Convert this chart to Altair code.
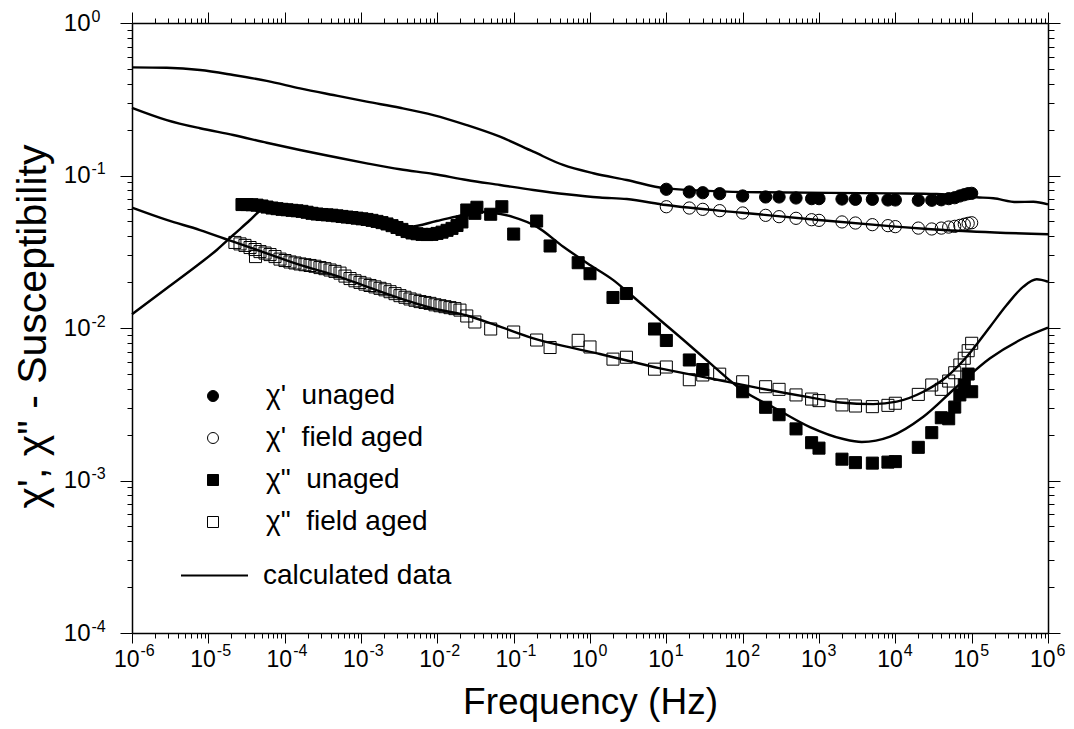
import altair as alt
import pandas as pd

# ---------------- data ----------------
# chi' (real part) - measured
c1_f = [10, 20, 30, 50, 100, 200, 300, 500, 800, 1000, 2000, 3000, 5000, 8000, 10000,
        20000, 30000, 40000, 50000, 60000, 70000, 80000, 90000, 100000]
c1_unaged = [0.0812, 0.0780, 0.0771, 0.0760, 0.0734, 0.0723, 0.0723, 0.0712, 0.0705, 0.0705,
             0.0701, 0.0698, 0.0698, 0.0691, 0.0691, 0.0688, 0.0688, 0.0693, 0.0705, 0.0715,
             0.0734, 0.0748, 0.0760, 0.0764]
c1_aged = [0.0624, 0.0612, 0.0600, 0.0588, 0.0568, 0.0548, 0.0537, 0.0524, 0.0513, 0.0508,
           0.0496, 0.0488, 0.0476, 0.0469, 0.0462, 0.0452, 0.0446, 0.0452, 0.0459, 0.0464,
           0.0471, 0.0479, 0.0486, 0.0490]

# chi'' unaged - measured (dense low-frequency sweep, then discrete points)
c2u_f = [2.76e-5, 3.21e-5, 3.73e-5, 4.34e-5, 5.05e-5, 5.87e-5, 6.83e-5, 7.94e-5, 9.23e-5, 1.074e-4,
         1.248e-4, 1.452e-4, 1.688e-4, 1.963e-4, 2.28e-4, 2.65e-4, 3.08e-4, 3.59e-4, 4.17e-4, 4.85e-4,
         5.64e-4, 6.56e-4, 7.63e-4, 8.87e-4, 1.031e-3, 1.199e-3, 1.394e-3, 1.621e-3, 1.885e-3, 2.19e-3,
         2.55e-3, 2.96e-3, 3.44e-3, 4.01e-3, 4.66e-3, 5.42e-3, 6.30e-3, 7.33e-3, 8.52e-3, 9.91e-3,
         1.152e-2, 1.34e-2, 1.556e-2, 1.81e-2, 2.10e-2,
         0.0243, 0.031, 0.033, 0.05, 0.07, 0.1, 0.2, 0.3, 0.7, 1, 2, 3, 7, 10, 20, 30, 100, 200, 300,
         500, 800, 1000, 2000, 3000, 5000, 8000, 10000, 20000, 30000, 40000, 50000, 60000, 70000,
         80000, 90000, 100000]
c2u_v = [0.0645, 0.0645, 0.0643, 0.0639, 0.0631, 0.0621, 0.0612, 0.0606, 0.0600, 0.0596,
         0.0591, 0.0587, 0.0582, 0.0574, 0.0565, 0.0559, 0.0555, 0.0552, 0.0549, 0.0544,
         0.0539, 0.0534, 0.0530, 0.0525, 0.0520, 0.0515, 0.0508, 0.0500, 0.0491, 0.0481,
         0.0469, 0.0456, 0.0443, 0.0429, 0.0420, 0.0415, 0.0411, 0.0410, 0.0411, 0.0417,
         0.0425, 0.0437, 0.0450, 0.0470, 0.0496,
         0.0594, 0.0565, 0.0619, 0.0557, 0.0624, 0.0413, 0.0503, 0.0345, 0.0268, 0.0227,
         0.01585, 0.01683, 0.00985, 0.00828, 0.00617, 0.00534, 0.00382, 0.00302, 0.00270,
         0.00218, 0.00177, 0.00163, 0.00138, 0.00131, 0.00130, 0.00132, 0.00133, 0.00165,
         0.00206, 0.00258, 0.00254, 0.00303, 0.00364, 0.00423, 0.00499, 0.00382]

# chi'' field aged - measured
c2a_f = [2.23e-5, 2.60e-5, 3.02e-5, 3.52e-5, 4.09e-5, 4.75e-5, 5.53e-5, 6.43e-5, 7.47e-5, 8.69e-5,
         1.010e-4, 1.175e-4, 1.365e-4, 1.588e-4, 1.846e-4, 2.15e-4, 2.49e-4, 2.90e-4, 3.37e-4, 3.93e-4,
         4.56e-4, 5.31e-4, 6.17e-4, 7.18e-4, 8.34e-4, 9.70e-4, 1.128e-3, 1.312e-3, 1.525e-3, 1.774e-3,
         2.06e-3, 2.40e-3, 2.79e-3, 3.24e-3, 3.77e-3, 4.39e-3, 5.10e-3, 5.93e-3, 6.89e-3, 8.01e-3,
         9.31e-3, 1.083e-2, 1.259e-2, 1.465e-2, 1.70e-2, 1.98e-2, 4.15e-5,
         0.0243, 0.031, 0.05, 0.1, 0.2, 0.3, 0.7, 1, 2, 3, 7, 10, 20, 30, 50, 100, 200, 300, 500,
         800, 1000, 2000, 3000, 5000, 8000, 10000, 20000, 30000, 40000, 50000, 60000, 70000,
         80000, 90000, 100000]
c2a_v = [0.0364, 0.0356, 0.0348, 0.0337, 0.0327, 0.0317, 0.0310, 0.0303, 0.0294, 0.0283,
         0.0277, 0.0271, 0.0267, 0.0263, 0.0260, 0.0257, 0.0254, 0.0249, 0.0245, 0.0240,
         0.0235, 0.0229, 0.0219, 0.0211, 0.0204, 0.0199, 0.0194, 0.0190, 0.0186, 0.0182,
         0.0178, 0.0173, 0.0168, 0.0163, 0.0159, 0.0155, 0.0152, 0.0149, 0.0147, 0.0145,
         0.0142, 0.0140, 0.0138, 0.0136, 0.0134, 0.0131, 0.0294,
         0.01199, 0.01095, 0.00985, 0.00941, 0.00834, 0.00745, 0.00830, 0.00751, 0.00625,
         0.00643, 0.00537, 0.00555, 0.00458, 0.00492, 0.00498, 0.00444, 0.00412, 0.00396,
         0.00364, 0.00342, 0.00334, 0.00313, 0.00308, 0.00305, 0.00311, 0.00321, 0.00367,
         0.00423, 0.00396, 0.00449, 0.00509, 0.00572, 0.00633, 0.00710, 0.00794]

# calculated curves
fit1_f = [1e-6, 2.85e-6, 7.78e-6, 2.12e-5, 5.82e-5, 1.59e-4, 4.34e-4, 1.19e-3, 3.24e-3, 8.85e-3,
          0.0243, 0.0662, 0.181, 0.444, 1.107, 3.03, 9.9, 169, 9419, 34800, 116400, 192300,
          389000, 642700, 1e6]
fit1_v = [0.512, 0.509, 0.492, 0.456, 0.417, 0.373, 0.337, 0.305, 0.278, 0.249, 0.214, 0.1796,
          0.1432, 0.1172, 0.1034, 0.0934, 0.0824, 0.0776, 0.0764, 0.0756, 0.0720, 0.0709,
          0.0670, 0.0673, 0.0647]
fit2_f = [1e-6, 2.85e-6, 7.78e-6, 2.12e-5, 5.82e-5, 1.59e-4, 4.34e-4, 1.19e-3, 3.24e-3, 8.85e-3,
          0.0243, 0.0662, 0.181, 0.495, 1.35, 3.03, 9.9, 98.2, 991, 10120, 29400, 116400, 1e6]
fit2_v = [0.278, 0.231, 0.204, 0.1843, 0.164, 0.147, 0.1328, 0.1202, 0.1098, 0.1023, 0.0934,
          0.0866, 0.0803, 0.0753, 0.0717, 0.0701, 0.0640, 0.0570, 0.0511, 0.0462, 0.0444,
          0.0428, 0.0412]
fit3_f = [1e-6, 2.85e-6, 7.78e-6, 1.29e-5, 2.12e-5, 3.52e-5, 4.75e-5, 7.1e-5, 1.59e-4, 4.3e-4,
          1.19e-3, 2.4e-3, 4.39e-3, 9.8e-3, 0.0219, 0.0362, 0.049, 0.0989, 0.2, 0.447, 1.0, 2.02,
          3.34, 8.26, 15.1, 37.3, 98.2, 279, 762, 2084, 3631, 8531, 23280, 63700, 174200,
          475300, 1e6]
fit3_v = [0.01230, 0.01821, 0.02657, 0.03247, 0.04072, 0.05107, 0.05877, 0.06404, 0.0621,
          0.0585, 0.0543, 0.0503, 0.0462, 0.0503, 0.0551, 0.0579, 0.0572, 0.0534, 0.0462,
          0.0341, 0.0259, 0.0206, 0.0167, 0.01128, 0.00873, 0.00589, 0.00392, 0.00294,
          0.00224, 0.00187, 0.00179, 0.00194, 0.00262, 0.00412, 0.00633, 0.00856, 0.01005]
fit4_f = [1e-6, 2.85e-6, 7.78e-6, 2.12e-5, 5.82e-5, 1.59e-4, 4.34e-4, 1.19e-3, 3.24e-3, 8.85e-3,
          0.0243, 0.0662, 0.181, 0.495, 1.35, 8.26, 37.3, 169, 762, 1884, 5152, 10420, 23280,
          47100, 86100, 174200, 287700, 475300, 711200, 1e6]
fit4_v = [0.0615, 0.0511, 0.0439, 0.0368, 0.0309, 0.0259, 0.0223, 0.01866, 0.01566, 0.01346,
          0.01208, 0.01020, 0.00856, 0.00754, 0.00675, 0.00544, 0.00468, 0.00402, 0.00351,
          0.00325, 0.00317, 0.00329, 0.00382, 0.00479, 0.00648, 0.0102, 0.01415, 0.01866,
          0.02086, 0.0201]

series_names = ["χ'\u00a0 unaged", "χ'\u00a0 field aged",
                'χ"\u00a0 unaged', 'χ"\u00a0 field aged']
fit_label = "calculated data"

x_major = [1e-6, 1e-5, 1e-4, 1e-3, 1e-2, 1e-1, 1, 10, 100, 1e3, 1e4, 1e5, 1e6]
y_major = [1e-4, 1e-3, 1e-2, 1e-1, 1]
x_minor = [k * 10.0 ** n for n in range(-6, 6) for k in range(2, 10)]
y_minor = [k * 10.0 ** n for n in range(-4, 0) for k in range(2, 10)]

# ---------------- tables ----------------
def table(fs, vs, name, col="series"):
    return pd.DataFrame({"f": fs, "v": vs, col: name})

circles = pd.concat([table(c1_f, c1_unaged, series_names[0]),
                     table(c1_f, c1_aged, series_names[1])], ignore_index=True)
squares = pd.concat([table(c2a_f, c2a_v, series_names[3]),
                     table(c2u_f, c2u_v, series_names[2])], ignore_index=True)
fit1 = table(fit1_f, fit1_v, "fit1", "fit")
fit1["kind"] = fit_label
fit2 = table(fit2_f, fit2_v, "fit2", "fit")
fits_b = pd.concat([table(fit3_f, fit3_v, "fit3", "fit"),
                    table(fit4_f, fit4_v, "fit4", "fit")], ignore_index=True)

# ---------------- styling ----------------
FONT = "Liberation Sans"
base_expr = "'10'"
exp_expr = "''+round(log(datum.value)/LN10)"

xs = alt.Scale(type="log", domain=[1e-6, 1e6], nice=False)
ys = alt.Scale(type="log", domain=[1e-4, 1], nice=False)

def axis(orient, values, size, domain, **kw):
    base = dict(orient=orient, values=values, tickSize=size, domain=domain, grid=False,
                tickColor="black", tickWidth=1, domainColor="black", domainWidth=1.5)
    if "labelExpr" not in kw:
        base["labels"] = False
        base["title"] = None
    else:
        base.update(labelFont=FONT, labelColor="black", labelFlush=False, labelOverlap=False)
    base.update(kw)
    return alt.Axis(**base)

# bottom: "10" part with ticks/frame/title, exponent part, minor ticks
ax_x_bottom = axis("bottom", x_major, 10, True, labelExpr=base_expr, labelFontSize=23,
                   labelPadding=5, labelAlign="right", labelOffset=7,
                   title="Frequency (Hz)", titleFont=FONT, titleFontSize=37,
                   titleFontWeight="normal", titleColor="black",
                   titleY=80, titleBaseline="alphabetic")
ax_x_bottom_exp = axis("bottom", x_major, 0, False, ticks=False, labelExpr=exp_expr,
                       labelFontSize=16, labelPadding=9, labelAlign="left", labelOffset=8,
                       title=None)
ax_x_bottom_minor = axis("bottom", x_minor, 5, False)
ax_x_top = axis("top", x_major, 11, True)
ax_x_top_minor = axis("top", x_minor, 5, False)

ax_y_left = axis("left", y_major, 12, True, labelExpr=base_expr, labelFontSize=24,
                 labelPadding=30, labelAlign="right",
                 title="χ', χ\" - Susceptibility", titleFont=FONT,
                 titleFontSize=41, titleFontWeight="normal", titleColor="black",
                 titleAngle=270, titleX=-87, titleY=303, titleBaseline="alphabetic",
                 titleAlign="center")
ax_y_left_exp = axis("left", y_major, 0, False, ticks=False, labelExpr=exp_expr,
                     labelFontSize=16, labelPadding=41, labelAlign="left", labelOffset=-7,
                     title=None)
ax_y_left_minor = axis("left", y_minor, 5, False)
ax_y_right = axis("right", y_major, 12, True)
ax_y_right_minor = axis("right", y_minor, 6, False)

shape_scale = alt.Scale(domain=series_names, range=["circle", "circle", "square", "square"])
fill_scale = alt.Scale(domain=series_names,
                       range=["black", "transparent", "black", "transparent"])
stroke_scale = alt.Scale(domain=series_names, range=["black", "black", "black", "black"])
pt_legend = alt.Legend(orient="none", legendX=67, legendY=359, title=None, labelFont=FONT,
                       labelFontSize=28, labelColor="black", labelLimit=400, symbolSize=121,
                       symbolStrokeWidth=1, rowPadding=14, labelOffset=39, padding=0)
line_legend = alt.Legend(orient="none", legendX=48, legendY=518, title=None, labelFont=FONT,
                         labelFontSize=28, labelColor="black", labelLimit=400,
                         symbolType="stroke", symbolSize=4489, symbolStrokeWidth=2,
                         symbolStrokeColor="black", labelOffset=14, padding=0)

LW = 2.4
lines_1 = alt.Chart(fit1).mark_line(strokeWidth=LW, interpolate="monotone").encode(
    x=alt.X("f:Q", scale=xs, axis=ax_x_bottom),
    y=alt.Y("v:Q", scale=ys, axis=ax_y_left),
    color=alt.Color("kind:N", scale=alt.Scale(domain=[fit_label], range=["black"]),
                    legend=line_legend),
)
lines_2 = alt.Chart(fit2).mark_line(strokeWidth=LW, interpolate="monotone", color="black").encode(
    x=alt.X("f:Q", scale=xs, axis=ax_x_bottom_exp),
    y=alt.Y("v:Q", scale=ys, axis=ax_y_left_exp),
)
lines_b = alt.Chart(fits_b).mark_line(strokeWidth=LW, interpolate="monotone", color="black").encode(
    x=alt.X("f:Q", scale=xs, axis=ax_x_top),
    y=alt.Y("v:Q", scale=ys, axis=ax_y_right),
    detail="fit:N",
)
pts_c = alt.Chart(circles).mark_point(filled=True, strokeWidth=1, opacity=1, size=150).encode(
    x=alt.X("f:Q", scale=xs, axis=ax_x_bottom_minor),
    y=alt.Y("v:Q", scale=ys, axis=ax_y_left_minor),
    shape=alt.Shape("series:N", scale=shape_scale, legend=pt_legend),
    fill=alt.Fill("series:N", scale=fill_scale, legend=pt_legend),
    stroke=alt.Stroke("series:N", scale=stroke_scale, legend=pt_legend),
)
pts_s = alt.Chart(squares).mark_point(filled=True, strokeWidth=1, opacity=1, size=145).encode(
    x=alt.X("f:Q", scale=xs, axis=ax_x_top_minor),
    y=alt.Y("v:Q", scale=ys, axis=ax_y_right_minor),
    shape=alt.Shape("series:N", scale=shape_scale, legend=pt_legend),
    fill=alt.Fill("series:N", scale=fill_scale, legend=pt_legend),
    stroke=alt.Stroke("series:N", scale=stroke_scale, legend=pt_legend),
)

chart = alt.layer(lines_1, lines_2, lines_b, pts_c, pts_s).resolve_axis(
    x="independent", y="independent"
).properties(
    width=916, height=610,
    padding={"left": 132, "top": 23, "right": 26, "bottom": 96},
    autosize=alt.AutoSizeParams(type="none"),
    background="white",
).configure_view(strokeWidth=0)

chart.save("out.html", embed_options={"renderer": "svg", "actions": False})
